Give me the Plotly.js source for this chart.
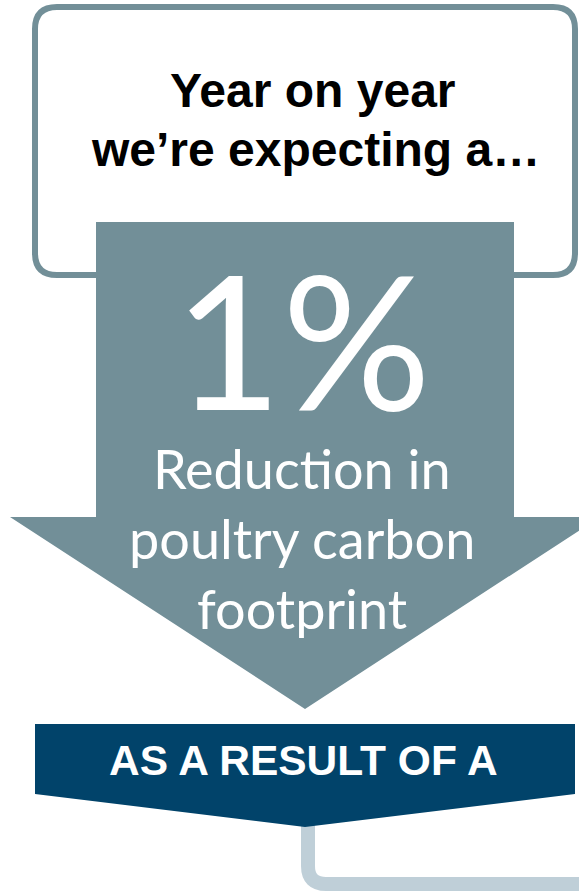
<!DOCTYPE html>
<html>
<head>
<meta charset="utf-8">
<script src="https://cdn.plot.ly/plotly-3.0.1.min.js"></script>
<style>
html,body{margin:0;padding:0;background:#fff;}
#chart{width:579px;height:891px;}
</style>
</head>
<body>
<div id="chart"></div>
<script>
// ---- data ----
const headingLines = ["Year on year", "we\u2019re expecting a\u2026"];
const changeValue = 1;            // percent reduction
const changeUnit = "%";
const subtitleLines = ["Reduction in", "poultry carbon", "footprint"];
const bannerText = "AS A RESULT OF A";

// ---- styles ----
const slate = "#728f98";
const navy = "#01436a";
const pale = "#bfcfd8";

const W = 579, H = 891;

function roundRect(x0, y0, x1, y1, r) {
  return `M${x0 + r},${y0} L${x1 - r},${y0} Q${x1},${y0} ${x1},${y0 + r} ` +
         `L${x1},${y1 - r} Q${x1},${y1} ${x1 - r},${y1} L${x0 + r},${y1} ` +
         `Q${x0},${y1} ${x0},${y1 - r} L${x0},${y0 + r} Q${x0},${y0} ${x0 + r},${y0} Z`;
}

const shapes = [
  // header box
  {type: "path", xref: "x", yref: "y", path: roundRect(35, 7, 575, 275, 22),
   line: {color: slate, width: 6}, fillcolor: "#ffffff", layer: "below"},
  // big down arrow
  {type: "path", xref: "x", yref: "y",
   path: "M96,222 L514,222 L514,517 L600,517 L305,709 L10,517 L96,517 Z",
   line: {width: 0}, fillcolor: slate, layer: "below"},
  // connector line
  {type: "path", xref: "x", yref: "y",
   path: "M308,820 L308,866 Q308,884 326,884 L620,884",
   line: {color: pale, width: 14}, fillcolor: "rgba(0,0,0,0)", layer: "below"},
  // banner
  {type: "path", xref: "x", yref: "y",
   path: "M35,724 L575,724 L575,794 L305,827 L35,794 Z",
   line: {width: 0}, fillcolor: navy, layer: "below"}
];

const annotations = [];
const headX = [313, 315];
const headY = [90, 149];
headingLines.forEach((t, i) => {
  annotations.push({x: headX[i], y: headY[i], xref: "x", yref: "y", text: t, showarrow: false,
    xanchor: "center", yanchor: "middle",
    font: {family: "Liberation Sans, Arial, sans-serif", size: 48, color: "#000", weight: "bold"}});
});
annotations.push({x: 302, y: 338, xref: "x", yref: "y", text: changeValue + changeUnit, showarrow: false,
  xanchor: "center", yanchor: "middle",
  font: {family: "Lato, sans-serif", size: 186, color: "#fff"}});
const subY = [468, 538, 608];
subtitleLines.forEach((t, i) => {
  annotations.push({x: 302, y: subY[i], xref: "x", yref: "y", text: t, showarrow: false,
    xanchor: "center", yanchor: "middle",
    font: {family: "Lato, sans-serif", size: 54, color: "#fff"}});
});
annotations.push({x: 303, y: 760, xref: "x", yref: "y", text: bannerText, showarrow: false,
  xanchor: "center", yanchor: "middle",
  font: {family: "Liberation Sans, Arial, sans-serif", size: 42.5, color: "#fff", weight: "bold"}});

const layout = {
  width: W, height: H,
  margin: {l: 0, r: 0, t: 0, b: 0, pad: 0},
  paper_bgcolor: "#fff", plot_bgcolor: "#fff",
  xaxis: {range: [0, W], visible: false, fixedrange: true},
  yaxis: {range: [H, 0], visible: false, fixedrange: true},
  shapes: shapes,
  annotations: annotations,
  showlegend: false
};

Plotly.newPlot("chart", [], layout, {displayModeBar: false, staticPlot: true});
</script>
</body>
</html>
